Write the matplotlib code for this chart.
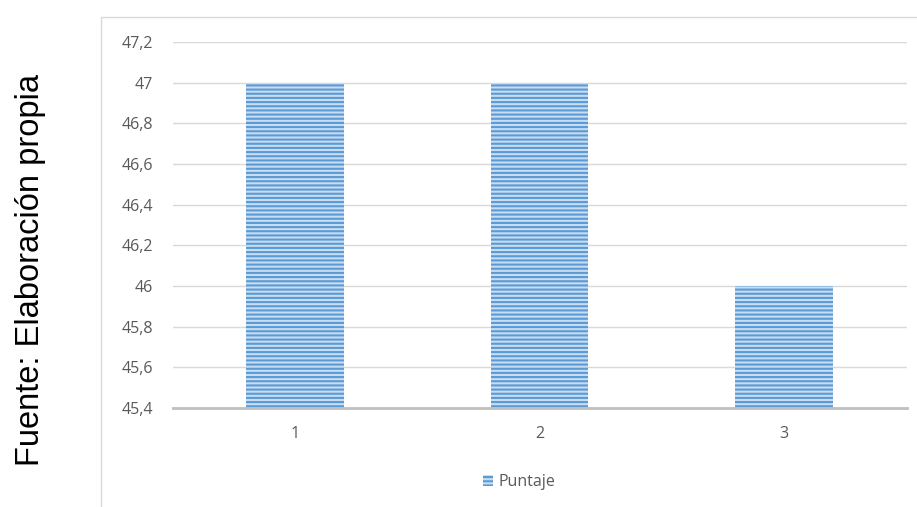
import matplotlib
matplotlib.use("Agg")
import matplotlib.pyplot as plt
from matplotlib.patches import Rectangle

categories = ["1", "2", "3"]
puntaje = [47, 47, 46]
y_ticks = [45.4, 45.6, 45.8, 46.0, 46.2, 46.4, 46.6, 46.8, 47.0, 47.2]
y_tick_labels = ["45,4", "45,6", "45,8", "46", "46,2", "46,4", "46,6", "46,8", "47", "47,2"]

W, H = 917, 507
fig = plt.figure(figsize=(W / 100, H / 100), dpi=100)

# chart frame
fig.patches.append(Rectangle((101 / W, -0.1), 1.0, 1 - 17 / H + 0.1, transform=fig.transFigure,
                             fill=False, edgecolor="#d9d9d9", lw=1.0))

ax = fig.add_axes([172.5 / W, 1 - 408 / H, (906.5 - 172.5) / W, (408 - 42) / H])
x = range(len(categories))
plt.rcParams["hatch.linewidth"] = 1.5
bars = ax.bar(x, puntaje, width=0.4, color="#c9ddf2", edgecolor="#5b9bd5", linewidth=0,
              hatch="----", label="Puntaje", zorder=3)

ax.set_ylim(45.4, 47.2)
ax.set_xlim(-0.5, 2.5)
ax.set_yticks(y_ticks)
ax.set_yticklabels(y_tick_labels)
ax.set_xticks(list(x))
ax.set_xticklabels(categories)
ax.grid(axis="y", color="#d9d9d9", lw=1.0, zorder=0)
for s in ["top", "right", "left"]:
    ax.spines[s].set_visible(False)
ax.spines["bottom"].set_color("#bfbfbf")
ax.spines["bottom"].set_linewidth(2.0)
ax.spines["bottom"].set_zorder(4)
ax.tick_params(axis="both", length=0, labelsize=11.5, labelcolor="#595959")
ax.tick_params(axis="y", pad=14)
ax.tick_params(axis="x", pad=13)
for lbl in ax.get_yticklabels() + ax.get_xticklabels():
    lbl.set_family("Open Sans")

leg = ax.legend(loc="center", bbox_to_anchor=(519 / W, 1 - 482 / H), bbox_transform=fig.transFigure,
                frameon=False, handlelength=0.65, handleheight=0.65, handletextpad=0.3,
                prop={"family": "Open Sans", "size": 11.5})
for t in leg.get_texts():
    t.set_color("#595959")

fig.text(31 / W, 1 - 270 / H, "Fuente: Elaboración propia", rotation=90, ha="center", va="center",
         fontsize=23.5, family="Liberation Sans", color="#000000")

fig.savefig("out.png", dpi=100)
